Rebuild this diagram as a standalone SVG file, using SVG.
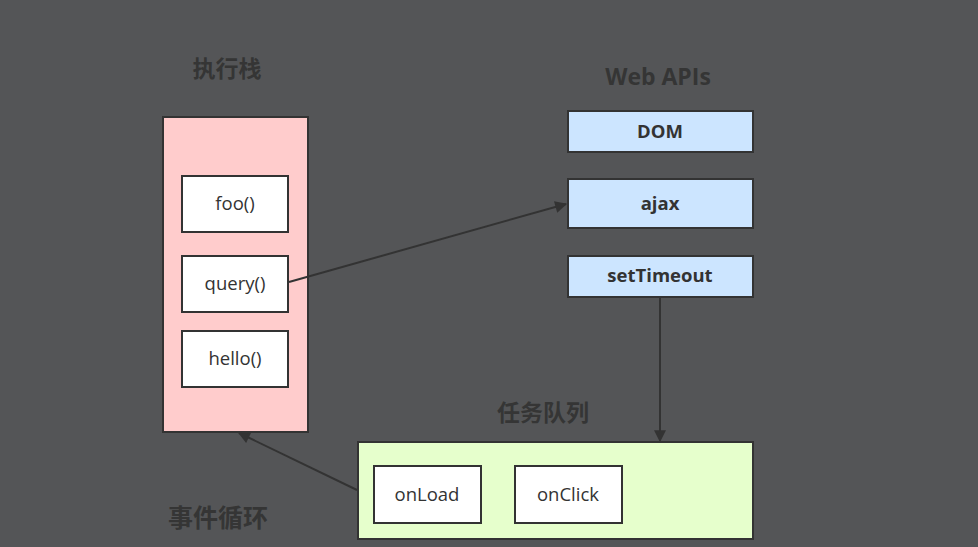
<svg xmlns="http://www.w3.org/2000/svg" width="978" height="547" viewBox="0 0 978 547">
<style>
text{font-family:"Open Sans","Noto Sans CJK SC",sans-serif;fill:#333333;text-anchor:middle}
.title{font-size:23px;font-weight:bold;fill:#353535}
.lbl{font-size:18.5px}
.api{font-size:18.5px;font-weight:bold}
.box{stroke:#333333;stroke-width:2}
.conn{stroke:#333333;stroke-width:2;fill:none}
</style>
<defs>
<marker id="arrL" viewBox="0 0 10 10" refX="9" refY="5" markerWidth="16" markerHeight="12" orient="auto" markerUnits="userSpaceOnUse">
<path d="M0,0 L10,5 L0,10 z" fill="#333333"/>
</marker>
</defs>
<rect width="978" height="547" fill="#545557"/>
<g id="stack">
<text class="title" x="227" y="77">执行栈</text>
<rect class="box" x="163" y="117" width="145" height="315" fill="#ffcccc"/>
</g>
<g id="foo"><rect class="box" x="182" y="176" width="106" height="56" fill="#ffffff"/><text class="lbl" x="235" y="210">foo()</text></g>
<g id="query"><rect class="box" x="182" y="256" width="106" height="56" fill="#ffffff"/><text class="lbl" x="235" y="290">query()</text></g>
<g id="hello"><rect class="box" x="182" y="331" width="106" height="56" fill="#ffffff"/><text class="lbl" x="235" y="365">hello()</text></g>
<g id="webapis"><text class="title" x="658" y="85">Web APIs</text></g>
<g id="dom"><rect class="box" x="568" y="111" width="185" height="41" fill="#cce5ff"/><text class="api" x="660" y="138">DOM</text></g>
<g id="ajax"><rect class="box" x="568" y="179" width="185" height="49" fill="#cce5ff"/><text class="api" x="660" y="210">ajax</text></g>
<g id="settimeout"><rect class="box" x="568" y="256" width="185" height="41" fill="#cce5ff"/><text class="api" x="660" y="282">setTimeout</text></g>
<g id="queue">
<text class="title" x="543" y="421">任务队列</text>
<rect class="box" x="358" y="442" width="395" height="97" fill="#e6ffcc"/>
</g>
<g id="onload"><rect class="box" x="374" y="466" width="107" height="57" fill="#ffffff"/><text class="lbl" x="427" y="501">onLoad</text></g>
<g id="onclick"><rect class="box" x="515" y="466" width="107" height="57" fill="#ffffff"/><text class="lbl" x="568" y="501">onClick</text></g>
<g id="eventloop"><text class="title" x="218" y="527" style="font-size:25px">事件循环</text></g>
<g id="connectors">
<line class="conn" x1="289" y1="282" x2="566" y2="204" marker-end="url(#arrL)"/>
<line class="conn" x1="660" y1="298" x2="660" y2="441" marker-end="url(#arrL)"/>
<line class="conn" x1="357" y1="490" x2="239" y2="433" marker-end="url(#arrL)"/>
</g>
</svg>
